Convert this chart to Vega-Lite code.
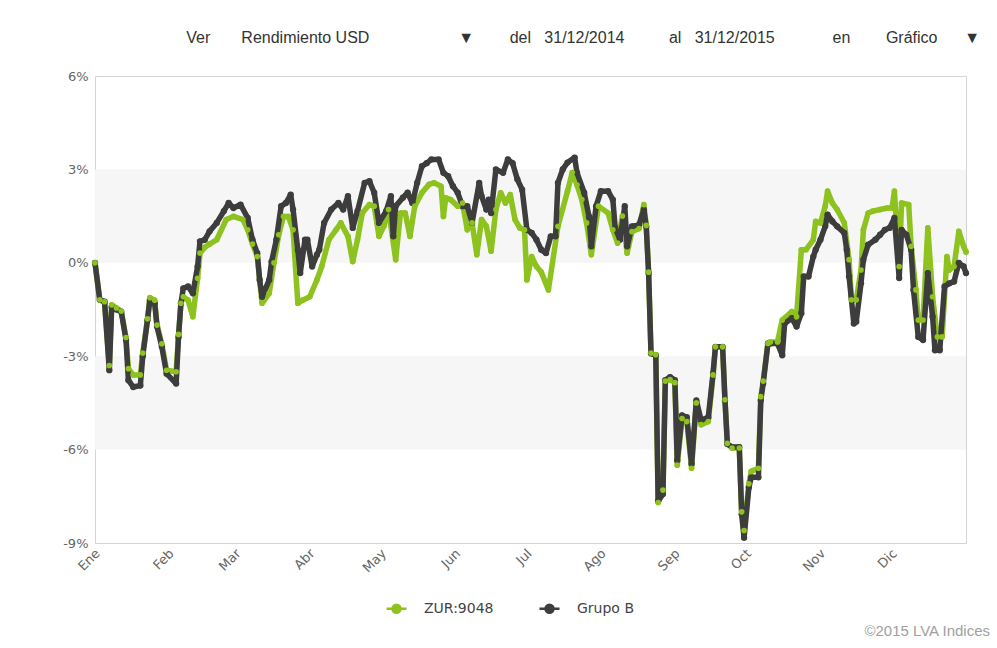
{
  "$schema": "https://vega.github.io/schema/vega-lite/v6.json",
  "width": 871,
  "height": 467,
  "autosize": {"type": "none"},
  "padding": {"left": 95, "top": 76, "right": 31, "bottom": 105},
  "background": "#ffffff",
  "title": {
    "text": "Ver\u00a0\u00a0\u00a0\u00a0\u00a0\u00a0\u00a0Rendimiento USD\u00a0\u00a0\u00a0\u00a0\u00a0\u00a0\u00a0\u00a0\u00a0\u00a0\u00a0\u00a0\u00a0\u00a0\u00a0\u00a0\u00a0\u00a0\u00a0\u00a0▼\u00a0\u00a0\u00a0\u00a0\u00a0\u00a0\u00a0\u00a0del\u00a0\u00a0\u00a031/12/2014\u00a0\u00a0\u00a0\u00a0\u00a0\u00a0\u00a0\u00a0\u00a0\u00a0al\u00a0\u00a0\u00a031/12/2015\u00a0\u00a0\u00a0\u00a0\u00a0\u00a0\u00a0\u00a0\u00a0\u00a0\u00a0\u00a0\u00a0en\u00a0\u00a0\u00a0\u00a0\u00a0\u00a0\u00a0\u00a0Gráfico\u00a0\u00a0\u00a0\u00a0\u00a0\u00a0▼",
    "anchor": "end",
    "frame": "group",
    "orient": "top",
    "offset": 24,
    "dx": 14,
    "font": "Liberation Sans",
    "fontSize": 16,
    "fontWeight": "normal",
    "color": "#333333",
    "limit": 0
  },
  "datasets": {
    "serie": [
      {"fecha": "2014-12-31", "serie": "Grupo B", "valor": 0},
      {"fecha": "2015-01-02", "serie": "Grupo B", "valor": -1.19},
      {"fecha": "2015-01-04", "serie": "Grupo B", "valor": -1.25},
      {"fecha": "2015-01-06", "serie": "Grupo B", "valor": -3.45},
      {"fecha": "2015-01-07", "serie": "Grupo B", "valor": -1.41},
      {"fecha": "2015-01-09", "serie": "Grupo B", "valor": -1.5},
      {"fecha": "2015-01-11", "serie": "Grupo B", "valor": -1.57},
      {"fecha": "2015-01-13", "serie": "Grupo B", "valor": -2.48},
      {"fecha": "2015-01-14", "serie": "Grupo B", "valor": -3.77},
      {"fecha": "2015-01-16", "serie": "Grupo B", "valor": -3.99},
      {"fecha": "2015-01-19", "serie": "Grupo B", "valor": -3.94},
      {"fecha": "2015-01-20", "serie": "Grupo B", "valor": -3.0},
      {"fecha": "2015-01-22", "serie": "Grupo B", "valor": -1.84},
      {"fecha": "2015-01-23", "serie": "Grupo B", "valor": -1.19},
      {"fecha": "2015-01-25", "serie": "Grupo B", "valor": -1.3},
      {"fecha": "2015-01-26", "serie": "Grupo B", "valor": -2.05},
      {"fecha": "2015-01-28", "serie": "Grupo B", "valor": -2.7},
      {"fecha": "2015-01-30", "serie": "Grupo B", "valor": -3.56},
      {"fecha": "2015-02-03", "serie": "Grupo B", "valor": -3.88},
      {"fecha": "2015-02-04", "serie": "Grupo B", "valor": -2.38},
      {"fecha": "2015-02-05", "serie": "Grupo B", "valor": -1.3},
      {"fecha": "2015-02-06", "serie": "Grupo B", "valor": -0.82},
      {"fecha": "2015-02-08", "serie": "Grupo B", "valor": -0.76},
      {"fecha": "2015-02-10", "serie": "Grupo B", "valor": -0.98},
      {"fecha": "2015-02-12", "serie": "Grupo B", "valor": -0.12},
      {"fecha": "2015-02-13", "serie": "Grupo B", "valor": 0.69},
      {"fecha": "2015-02-15", "serie": "Grupo B", "valor": 0.74},
      {"fecha": "2015-02-17", "serie": "Grupo B", "valor": 1.01},
      {"fecha": "2015-02-20", "serie": "Grupo B", "valor": 1.28},
      {"fecha": "2015-02-23", "serie": "Grupo B", "valor": 1.66},
      {"fecha": "2015-02-25", "serie": "Grupo B", "valor": 1.92},
      {"fecha": "2015-02-27", "serie": "Grupo B", "valor": 1.76},
      {"fecha": "2015-03-02", "serie": "Grupo B", "valor": 1.87},
      {"fecha": "2015-03-05", "serie": "Grupo B", "valor": 1.44},
      {"fecha": "2015-03-07", "serie": "Grupo B", "valor": 0.74},
      {"fecha": "2015-03-09", "serie": "Grupo B", "valor": 0.31},
      {"fecha": "2015-03-10", "serie": "Grupo B", "valor": -0.55},
      {"fecha": "2015-03-11", "serie": "Grupo B", "valor": -1.09},
      {"fecha": "2015-03-14", "serie": "Grupo B", "valor": -0.55},
      {"fecha": "2015-03-15", "serie": "Grupo B", "valor": 0.04},
      {"fecha": "2015-03-17", "serie": "Grupo B", "valor": 0.74},
      {"fecha": "2015-03-19", "serie": "Grupo B", "valor": 1.82},
      {"fecha": "2015-03-21", "serie": "Grupo B", "valor": 1.92},
      {"fecha": "2015-03-23", "serie": "Grupo B", "valor": 2.19},
      {"fecha": "2015-03-24", "serie": "Grupo B", "valor": 1.71},
      {"fecha": "2015-03-26", "serie": "Grupo B", "valor": 0.42},
      {"fecha": "2015-03-27", "serie": "Grupo B", "valor": -0.33},
      {"fecha": "2015-03-29", "serie": "Grupo B", "valor": 0.74},
      {"fecha": "2015-03-30", "serie": "Grupo B", "valor": 0.74},
      {"fecha": "2015-04-01", "serie": "Grupo B", "valor": -0.12},
      {"fecha": "2015-04-03", "serie": "Grupo B", "valor": 0.26},
      {"fecha": "2015-04-04", "serie": "Grupo B", "valor": 0.42},
      {"fecha": "2015-04-06", "serie": "Grupo B", "valor": 1.28},
      {"fecha": "2015-04-09", "serie": "Grupo B", "valor": 1.71},
      {"fecha": "2015-04-12", "serie": "Grupo B", "valor": 1.92},
      {"fecha": "2015-04-14", "serie": "Grupo B", "valor": 1.71},
      {"fecha": "2015-04-16", "serie": "Grupo B", "valor": 2.14},
      {"fecha": "2015-04-18", "serie": "Grupo B", "valor": 1.12},
      {"fecha": "2015-04-20", "serie": "Grupo B", "valor": 1.66},
      {"fecha": "2015-04-23", "serie": "Grupo B", "valor": 2.57},
      {"fecha": "2015-04-25", "serie": "Grupo B", "valor": 2.62},
      {"fecha": "2015-04-27", "serie": "Grupo B", "valor": 2.25},
      {"fecha": "2015-04-29", "serie": "Grupo B", "valor": 1.28},
      {"fecha": "2015-05-02", "serie": "Grupo B", "valor": 1.66},
      {"fecha": "2015-05-04", "serie": "Grupo B", "valor": 2.14},
      {"fecha": "2015-05-05", "serie": "Grupo B", "valor": 0.85},
      {"fecha": "2015-05-06", "serie": "Grupo B", "valor": 1.82},
      {"fecha": "2015-05-09", "serie": "Grupo B", "valor": 2.09},
      {"fecha": "2015-05-11", "serie": "Grupo B", "valor": 2.25},
      {"fecha": "2015-05-13", "serie": "Grupo B", "valor": 1.92},
      {"fecha": "2015-05-15", "serie": "Grupo B", "valor": 2.57},
      {"fecha": "2015-05-17", "serie": "Grupo B", "valor": 3.1},
      {"fecha": "2015-05-19", "serie": "Grupo B", "valor": 3.2},
      {"fecha": "2015-05-21", "serie": "Grupo B", "valor": 3.32},
      {"fecha": "2015-05-24", "serie": "Grupo B", "valor": 3.32},
      {"fecha": "2015-05-26", "serie": "Grupo B", "valor": 2.89},
      {"fecha": "2015-05-28", "serie": "Grupo B", "valor": 2.78},
      {"fecha": "2015-05-30", "serie": "Grupo B", "valor": 2.46},
      {"fecha": "2015-06-01", "serie": "Grupo B", "valor": 2.25},
      {"fecha": "2015-06-03", "serie": "Grupo B", "valor": 1.82},
      {"fecha": "2015-06-05", "serie": "Grupo B", "valor": 1.82},
      {"fecha": "2015-06-07", "serie": "Grupo B", "valor": 1.28},
      {"fecha": "2015-06-10", "serie": "Grupo B", "valor": 2.57},
      {"fecha": "2015-06-11", "serie": "Grupo B", "valor": 2.14},
      {"fecha": "2015-06-13", "serie": "Grupo B", "valor": 1.71},
      {"fecha": "2015-06-14", "serie": "Grupo B", "valor": 2.03},
      {"fecha": "2015-06-15", "serie": "Grupo B", "valor": 1.6},
      {"fecha": "2015-06-17", "serie": "Grupo B", "valor": 3.0},
      {"fecha": "2015-06-20", "serie": "Grupo B", "valor": 2.89},
      {"fecha": "2015-06-22", "serie": "Grupo B", "valor": 3.32},
      {"fecha": "2015-06-24", "serie": "Grupo B", "valor": 3.2},
      {"fecha": "2015-06-26", "serie": "Grupo B", "valor": 2.68},
      {"fecha": "2015-06-28", "serie": "Grupo B", "valor": 2.35},
      {"fecha": "2015-06-30", "serie": "Grupo B", "valor": 1.06},
      {"fecha": "2015-07-02", "serie": "Grupo B", "valor": 0.96},
      {"fecha": "2015-07-04", "serie": "Grupo B", "valor": 0.74},
      {"fecha": "2015-07-06", "serie": "Grupo B", "valor": 0.42},
      {"fecha": "2015-07-08", "serie": "Grupo B", "valor": 0.31},
      {"fecha": "2015-07-10", "serie": "Grupo B", "valor": 0.85},
      {"fecha": "2015-07-12", "serie": "Grupo B", "valor": 0.85},
      {"fecha": "2015-07-13", "serie": "Grupo B", "valor": 2.57},
      {"fecha": "2015-07-15", "serie": "Grupo B", "valor": 3.0},
      {"fecha": "2015-07-17", "serie": "Grupo B", "valor": 3.22},
      {"fecha": "2015-07-20", "serie": "Grupo B", "valor": 3.38},
      {"fecha": "2015-07-21", "serie": "Grupo B", "valor": 2.89},
      {"fecha": "2015-07-24", "serie": "Grupo B", "valor": 2.25},
      {"fecha": "2015-07-26", "serie": "Grupo B", "valor": 1.49},
      {"fecha": "2015-07-27", "serie": "Grupo B", "valor": 0.53},
      {"fecha": "2015-07-29", "serie": "Grupo B", "valor": 1.82},
      {"fecha": "2015-07-31", "serie": "Grupo B", "valor": 2.3},
      {"fecha": "2015-08-03", "serie": "Grupo B", "valor": 2.3},
      {"fecha": "2015-08-05", "serie": "Grupo B", "valor": 2.03},
      {"fecha": "2015-08-06", "serie": "Grupo B", "valor": 1.12},
      {"fecha": "2015-08-08", "serie": "Grupo B", "valor": 0.74},
      {"fecha": "2015-08-10", "serie": "Grupo B", "valor": 1.82},
      {"fecha": "2015-08-11", "serie": "Grupo B", "valor": 0.53},
      {"fecha": "2015-08-13", "serie": "Grupo B", "valor": 1.17},
      {"fecha": "2015-08-16", "serie": "Grupo B", "valor": 1.23},
      {"fecha": "2015-08-18", "serie": "Grupo B", "valor": 1.71},
      {"fecha": "2015-08-19", "serie": "Grupo B", "valor": 1.17},
      {"fecha": "2015-08-20", "serie": "Grupo B", "valor": -0.33},
      {"fecha": "2015-08-21", "serie": "Grupo B", "valor": -2.91},
      {"fecha": "2015-08-23", "serie": "Grupo B", "valor": -2.97},
      {"fecha": "2015-08-24", "serie": "Grupo B", "valor": -7.65},
      {"fecha": "2015-08-26", "serie": "Grupo B", "valor": -7.43},
      {"fecha": "2015-08-27", "serie": "Grupo B", "valor": -3.77},
      {"fecha": "2015-08-29", "serie": "Grupo B", "valor": -3.67},
      {"fecha": "2015-08-31", "serie": "Grupo B", "valor": -3.77},
      {"fecha": "2015-09-01", "serie": "Grupo B", "valor": -6.35},
      {"fecha": "2015-09-03", "serie": "Grupo B", "valor": -4.9},
      {"fecha": "2015-09-05", "serie": "Grupo B", "valor": -4.96},
      {"fecha": "2015-09-07", "serie": "Grupo B", "valor": -6.46},
      {"fecha": "2015-09-09", "serie": "Grupo B", "valor": -4.42},
      {"fecha": "2015-09-11", "serie": "Grupo B", "valor": -5.06},
      {"fecha": "2015-09-14", "serie": "Grupo B", "valor": -4.96},
      {"fecha": "2015-09-16", "serie": "Grupo B", "valor": -3.56},
      {"fecha": "2015-09-17", "serie": "Grupo B", "valor": -2.7},
      {"fecha": "2015-09-20", "serie": "Grupo B", "valor": -2.7},
      {"fecha": "2015-09-21", "serie": "Grupo B", "valor": -4.42},
      {"fecha": "2015-09-22", "serie": "Grupo B", "valor": -5.82},
      {"fecha": "2015-09-24", "serie": "Grupo B", "valor": -5.92},
      {"fecha": "2015-09-27", "serie": "Grupo B", "valor": -5.92},
      {"fecha": "2015-09-28", "serie": "Grupo B", "valor": -8.08},
      {"fecha": "2015-09-29", "serie": "Grupo B", "valor": -8.83},
      {"fecha": "2015-10-01", "serie": "Grupo B", "valor": -7.22},
      {"fecha": "2015-10-02", "serie": "Grupo B", "valor": -6.89},
      {"fecha": "2015-10-05", "serie": "Grupo B", "valor": -6.89},
      {"fecha": "2015-10-06", "serie": "Grupo B", "valor": -4.42},
      {"fecha": "2015-10-07", "serie": "Grupo B", "valor": -3.88},
      {"fecha": "2015-10-09", "serie": "Grupo B", "valor": -2.59},
      {"fecha": "2015-10-10", "serie": "Grupo B", "valor": -2.59},
      {"fecha": "2015-10-13", "serie": "Grupo B", "valor": -2.59},
      {"fecha": "2015-10-15", "serie": "Grupo B", "valor": -2.97},
      {"fecha": "2015-10-16", "serie": "Grupo B", "valor": -1.95},
      {"fecha": "2015-10-19", "serie": "Grupo B", "valor": -1.78},
      {"fecha": "2015-10-21", "serie": "Grupo B", "valor": -2.05},
      {"fecha": "2015-10-23", "serie": "Grupo B", "valor": -1.62},
      {"fecha": "2015-10-24", "serie": "Grupo B", "valor": -0.44},
      {"fecha": "2015-10-26", "serie": "Grupo B", "valor": -0.44},
      {"fecha": "2015-10-28", "serie": "Grupo B", "valor": 0.2},
      {"fecha": "2015-10-29", "serie": "Grupo B", "valor": 0.42},
      {"fecha": "2015-10-31", "serie": "Grupo B", "valor": 0.74},
      {"fecha": "2015-11-02", "serie": "Grupo B", "valor": 1.17},
      {"fecha": "2015-11-03", "serie": "Grupo B", "valor": 1.55},
      {"fecha": "2015-11-05", "serie": "Grupo B", "valor": 1.33},
      {"fecha": "2015-11-07", "serie": "Grupo B", "valor": 1.17},
      {"fecha": "2015-11-10", "serie": "Grupo B", "valor": 0.96},
      {"fecha": "2015-11-11", "serie": "Grupo B", "valor": 0.42},
      {"fecha": "2015-11-12", "serie": "Grupo B", "valor": -0.44},
      {"fecha": "2015-11-14", "serie": "Grupo B", "valor": -1.95},
      {"fecha": "2015-11-15", "serie": "Grupo B", "valor": -1.89},
      {"fecha": "2015-11-17", "serie": "Grupo B", "valor": -0.66},
      {"fecha": "2015-11-18", "serie": "Grupo B", "valor": 0.1},
      {"fecha": "2015-11-20", "serie": "Grupo B", "valor": 0.58},
      {"fecha": "2015-11-23", "serie": "Grupo B", "valor": 0.74},
      {"fecha": "2015-11-25", "serie": "Grupo B", "valor": 0.9},
      {"fecha": "2015-11-27", "serie": "Grupo B", "valor": 1.06},
      {"fecha": "2015-11-29", "serie": "Grupo B", "valor": 1.12},
      {"fecha": "2015-12-01", "serie": "Grupo B", "valor": 1.44},
      {"fecha": "2015-12-03", "serie": "Grupo B", "valor": -0.49},
      {"fecha": "2015-12-04", "serie": "Grupo B", "valor": 1.06},
      {"fecha": "2015-12-06", "serie": "Grupo B", "valor": 0.9},
      {"fecha": "2015-12-08", "serie": "Grupo B", "valor": 0.42},
      {"fecha": "2015-12-09", "serie": "Grupo B", "valor": -0.87},
      {"fecha": "2015-12-11", "serie": "Grupo B", "valor": -2.38},
      {"fecha": "2015-12-13", "serie": "Grupo B", "valor": -2.48},
      {"fecha": "2015-12-15", "serie": "Grupo B", "valor": -0.33},
      {"fecha": "2015-12-17", "serie": "Grupo B", "valor": -1.73},
      {"fecha": "2015-12-18", "serie": "Grupo B", "valor": -2.81},
      {"fecha": "2015-12-20", "serie": "Grupo B", "valor": -2.81},
      {"fecha": "2015-12-22", "serie": "Grupo B", "valor": -0.76},
      {"fecha": "2015-12-24", "serie": "Grupo B", "valor": -0.66},
      {"fecha": "2015-12-26", "serie": "Grupo B", "valor": -0.6},
      {"fecha": "2015-12-28", "serie": "Grupo B", "valor": 0},
      {"fecha": "2015-12-30", "serie": "Grupo B", "valor": -0.12},
      {"fecha": "2015-12-31", "serie": "Grupo B", "valor": -0.33},

      {"fecha": "2014-12-31", "serie": "ZUR:9048", "valor": 0},
      {"fecha": "2015-01-02", "serie": "ZUR:9048", "valor": -1.19},
      {"fecha": "2015-01-04", "serie": "ZUR:9048", "valor": -1.25},
      {"fecha": "2015-01-06", "serie": "ZUR:9048", "valor": -3.3},
      {"fecha": "2015-01-07", "serie": "ZUR:9048", "valor": -1.35},
      {"fecha": "2015-01-09", "serie": "ZUR:9048", "valor": -1.45},
      {"fecha": "2015-01-11", "serie": "ZUR:9048", "valor": -1.55},
      {"fecha": "2015-01-13", "serie": "ZUR:9048", "valor": -2.4},
      {"fecha": "2015-01-14", "serie": "ZUR:9048", "valor": -3.4},
      {"fecha": "2015-01-16", "serie": "ZUR:9048", "valor": -3.6},
      {"fecha": "2015-01-19", "serie": "ZUR:9048", "valor": -3.6},
      {"fecha": "2015-01-20", "serie": "ZUR:9048", "valor": -2.9},
      {"fecha": "2015-01-22", "serie": "ZUR:9048", "valor": -1.8},
      {"fecha": "2015-01-23", "serie": "ZUR:9048", "valor": -1.12},
      {"fecha": "2015-01-25", "serie": "ZUR:9048", "valor": -1.2},
      {"fecha": "2015-01-26", "serie": "ZUR:9048", "valor": -2.0},
      {"fecha": "2015-01-28", "serie": "ZUR:9048", "valor": -2.6},
      {"fecha": "2015-01-30", "serie": "ZUR:9048", "valor": -3.45},
      {"fecha": "2015-02-03", "serie": "ZUR:9048", "valor": -3.5},
      {"fecha": "2015-02-04", "serie": "ZUR:9048", "valor": -2.3},
      {"fecha": "2015-02-05", "serie": "ZUR:9048", "valor": -1.3},
      {"fecha": "2015-02-06", "serie": "ZUR:9048", "valor": -1.09},
      {"fecha": "2015-02-08", "serie": "ZUR:9048", "valor": -1.2},
      {"fecha": "2015-02-10", "serie": "ZUR:9048", "valor": -1.73},
      {"fecha": "2015-02-12", "serie": "ZUR:9048", "valor": -0.5},
      {"fecha": "2015-02-13", "serie": "ZUR:9048", "valor": 0.31},
      {"fecha": "2015-02-15", "serie": "ZUR:9048", "valor": 0.5},
      {"fecha": "2015-02-17", "serie": "ZUR:9048", "valor": 0.6},
      {"fecha": "2015-02-20", "serie": "ZUR:9048", "valor": 0.74},
      {"fecha": "2015-02-24", "serie": "ZUR:9048", "valor": 1.39},
      {"fecha": "2015-02-27", "serie": "ZUR:9048", "valor": 1.49},
      {"fecha": "2015-03-03", "serie": "ZUR:9048", "valor": 1.39},
      {"fecha": "2015-03-05", "serie": "ZUR:9048", "valor": 1.06},
      {"fecha": "2015-03-07", "serie": "ZUR:9048", "valor": 0.6},
      {"fecha": "2015-03-09", "serie": "ZUR:9048", "valor": 0.2},
      {"fecha": "2015-03-11", "serie": "ZUR:9048", "valor": -1.3},
      {"fecha": "2015-03-14", "serie": "ZUR:9048", "valor": -0.98},
      {"fecha": "2015-03-16", "serie": "ZUR:9048", "valor": 0},
      {"fecha": "2015-03-18", "serie": "ZUR:9048", "valor": 0.9},
      {"fecha": "2015-03-20", "serie": "ZUR:9048", "valor": 1.49},
      {"fecha": "2015-03-22", "serie": "ZUR:9048", "valor": 1.49},
      {"fecha": "2015-03-24", "serie": "ZUR:9048", "valor": 1.06},
      {"fecha": "2015-03-26", "serie": "ZUR:9048", "valor": -1.3},
      {"fecha": "2015-03-28", "serie": "ZUR:9048", "valor": -1.2},
      {"fecha": "2015-03-31", "serie": "ZUR:9048", "valor": -1.09},
      {"fecha": "2015-04-03", "serie": "ZUR:9048", "valor": -0.55},
      {"fecha": "2015-04-05", "serie": "ZUR:9048", "valor": -0.12},
      {"fecha": "2015-04-08", "serie": "ZUR:9048", "valor": 0.74},
      {"fecha": "2015-04-11", "serie": "ZUR:9048", "valor": 1.06},
      {"fecha": "2015-04-13", "serie": "ZUR:9048", "valor": 1.28},
      {"fecha": "2015-04-16", "serie": "ZUR:9048", "valor": 0.85},
      {"fecha": "2015-04-18", "serie": "ZUR:9048", "valor": 0.04},
      {"fecha": "2015-04-20", "serie": "ZUR:9048", "valor": 0.74},
      {"fecha": "2015-04-22", "serie": "ZUR:9048", "valor": 1.6},
      {"fecha": "2015-04-25", "serie": "ZUR:9048", "valor": 1.87},
      {"fecha": "2015-04-27", "serie": "ZUR:9048", "valor": 1.82},
      {"fecha": "2015-04-29", "serie": "ZUR:9048", "valor": 0.85},
      {"fecha": "2015-05-01", "serie": "ZUR:9048", "valor": 1.17},
      {"fecha": "2015-05-03", "serie": "ZUR:9048", "valor": 1.71},
      {"fecha": "2015-05-06", "serie": "ZUR:9048", "valor": 0.1},
      {"fecha": "2015-05-08", "serie": "ZUR:9048", "valor": 1.6},
      {"fecha": "2015-05-10", "serie": "ZUR:9048", "valor": 1.6},
      {"fecha": "2015-05-12", "serie": "ZUR:9048", "valor": 0.85},
      {"fecha": "2015-05-14", "serie": "ZUR:9048", "valor": 1.82},
      {"fecha": "2015-05-17", "serie": "ZUR:9048", "valor": 2.25},
      {"fecha": "2015-05-20", "serie": "ZUR:9048", "valor": 2.52},
      {"fecha": "2015-05-22", "serie": "ZUR:9048", "valor": 2.57},
      {"fecha": "2015-05-25", "serie": "ZUR:9048", "valor": 2.46},
      {"fecha": "2015-05-26", "serie": "ZUR:9048", "valor": 1.49},
      {"fecha": "2015-05-27", "serie": "ZUR:9048", "valor": 2.09},
      {"fecha": "2015-05-29", "serie": "ZUR:9048", "valor": 2.03},
      {"fecha": "2015-06-01", "serie": "ZUR:9048", "valor": 1.82},
      {"fecha": "2015-06-03", "serie": "ZUR:9048", "valor": 1.92},
      {"fecha": "2015-06-05", "serie": "ZUR:9048", "valor": 1.06},
      {"fecha": "2015-06-07", "serie": "ZUR:9048", "valor": 1.28},
      {"fecha": "2015-06-09", "serie": "ZUR:9048", "valor": 0.26},
      {"fecha": "2015-06-11", "serie": "ZUR:9048", "valor": 1.39},
      {"fecha": "2015-06-13", "serie": "ZUR:9048", "valor": 1.17},
      {"fecha": "2015-06-15", "serie": "ZUR:9048", "valor": 0.37},
      {"fecha": "2015-06-17", "serie": "ZUR:9048", "valor": 1.71},
      {"fecha": "2015-06-19", "serie": "ZUR:9048", "valor": 2.25},
      {"fecha": "2015-06-21", "serie": "ZUR:9048", "valor": 1.92},
      {"fecha": "2015-06-23", "serie": "ZUR:9048", "valor": 2.19},
      {"fecha": "2015-06-25", "serie": "ZUR:9048", "valor": 1.39},
      {"fecha": "2015-06-27", "serie": "ZUR:9048", "valor": 1.12},
      {"fecha": "2015-06-29", "serie": "ZUR:9048", "valor": 1.06},
      {"fecha": "2015-06-30", "serie": "ZUR:9048", "valor": -0.55},
      {"fecha": "2015-07-02", "serie": "ZUR:9048", "valor": 0.2},
      {"fecha": "2015-07-04", "serie": "ZUR:9048", "valor": -0.12},
      {"fecha": "2015-07-06", "serie": "ZUR:9048", "valor": -0.3},
      {"fecha": "2015-07-09", "serie": "ZUR:9048", "valor": -0.87},
      {"fecha": "2015-07-13", "serie": "ZUR:9048", "valor": 1.17},
      {"fecha": "2015-07-17", "serie": "ZUR:9048", "valor": 2.3},
      {"fecha": "2015-07-19", "serie": "ZUR:9048", "valor": 2.9},
      {"fecha": "2015-07-21", "serie": "ZUR:9048", "valor": 2.5},
      {"fecha": "2015-07-23", "serie": "ZUR:9048", "valor": 2.03},
      {"fecha": "2015-07-25", "serie": "ZUR:9048", "valor": 1.28},
      {"fecha": "2015-07-27", "serie": "ZUR:9048", "valor": 0.26},
      {"fecha": "2015-07-30", "serie": "ZUR:9048", "valor": 1.82},
      {"fecha": "2015-08-03", "serie": "ZUR:9048", "valor": 1.6},
      {"fecha": "2015-08-05", "serie": "ZUR:9048", "valor": 1.06},
      {"fecha": "2015-08-07", "serie": "ZUR:9048", "valor": 0.63},
      {"fecha": "2015-08-09", "serie": "ZUR:9048", "valor": 1.5},
      {"fecha": "2015-08-11", "serie": "ZUR:9048", "valor": 0.31},
      {"fecha": "2015-08-13", "serie": "ZUR:9048", "valor": 1.0},
      {"fecha": "2015-08-16", "serie": "ZUR:9048", "valor": 1.1},
      {"fecha": "2015-08-18", "serie": "ZUR:9048", "valor": 1.87},
      {"fecha": "2015-08-19", "serie": "ZUR:9048", "valor": 1.2},
      {"fecha": "2015-08-20", "serie": "ZUR:9048", "valor": -0.3},
      {"fecha": "2015-08-21", "serie": "ZUR:9048", "valor": -2.9},
      {"fecha": "2015-08-23", "serie": "ZUR:9048", "valor": -2.95},
      {"fecha": "2015-08-24", "serie": "ZUR:9048", "valor": -7.7},
      {"fecha": "2015-08-26", "serie": "ZUR:9048", "valor": -7.3},
      {"fecha": "2015-08-27", "serie": "ZUR:9048", "valor": -3.8},
      {"fecha": "2015-08-29", "serie": "ZUR:9048", "valor": -3.75},
      {"fecha": "2015-08-31", "serie": "ZUR:9048", "valor": -3.85},
      {"fecha": "2015-09-01", "serie": "ZUR:9048", "valor": -6.5},
      {"fecha": "2015-09-03", "serie": "ZUR:9048", "valor": -5.0},
      {"fecha": "2015-09-05", "serie": "ZUR:9048", "valor": -5.1},
      {"fecha": "2015-09-07", "serie": "ZUR:9048", "valor": -6.6},
      {"fecha": "2015-09-09", "serie": "ZUR:9048", "valor": -4.5},
      {"fecha": "2015-09-11", "serie": "ZUR:9048", "valor": -5.2},
      {"fecha": "2015-09-14", "serie": "ZUR:9048", "valor": -5.1},
      {"fecha": "2015-09-16", "serie": "ZUR:9048", "valor": -3.6},
      {"fecha": "2015-09-17", "serie": "ZUR:9048", "valor": -2.7},
      {"fecha": "2015-09-20", "serie": "ZUR:9048", "valor": -2.7},
      {"fecha": "2015-09-21", "serie": "ZUR:9048", "valor": -4.4},
      {"fecha": "2015-09-22", "serie": "ZUR:9048", "valor": -5.8},
      {"fecha": "2015-09-24", "serie": "ZUR:9048", "valor": -5.95},
      {"fecha": "2015-09-27", "serie": "ZUR:9048", "valor": -5.95},
      {"fecha": "2015-09-28", "serie": "ZUR:9048", "valor": -8.0},
      {"fecha": "2015-09-29", "serie": "ZUR:9048", "valor": -8.6},
      {"fecha": "2015-10-01", "serie": "ZUR:9048", "valor": -7.1},
      {"fecha": "2015-10-02", "serie": "ZUR:9048", "valor": -6.7},
      {"fecha": "2015-10-05", "serie": "ZUR:9048", "valor": -6.6},
      {"fecha": "2015-10-06", "serie": "ZUR:9048", "valor": -4.3},
      {"fecha": "2015-10-07", "serie": "ZUR:9048", "valor": -3.8},
      {"fecha": "2015-10-09", "serie": "ZUR:9048", "valor": -2.59},
      {"fecha": "2015-10-10", "serie": "ZUR:9048", "valor": -2.54},
      {"fecha": "2015-10-13", "serie": "ZUR:9048", "valor": -2.54},
      {"fecha": "2015-10-15", "serie": "ZUR:9048", "valor": -1.84},
      {"fecha": "2015-10-19", "serie": "ZUR:9048", "valor": -1.57},
      {"fecha": "2015-10-21", "serie": "ZUR:9048", "valor": -1.73},
      {"fecha": "2015-10-23", "serie": "ZUR:9048", "valor": 0.42},
      {"fecha": "2015-10-25", "serie": "ZUR:9048", "valor": 0.42},
      {"fecha": "2015-10-28", "serie": "ZUR:9048", "valor": 0.74},
      {"fecha": "2015-10-29", "serie": "ZUR:9048", "valor": 1.33},
      {"fecha": "2015-10-31", "serie": "ZUR:9048", "valor": 1.28},
      {"fecha": "2015-11-02", "serie": "ZUR:9048", "valor": 1.82},
      {"fecha": "2015-11-03", "serie": "ZUR:9048", "valor": 2.3},
      {"fecha": "2015-11-05", "serie": "ZUR:9048", "valor": 1.92},
      {"fecha": "2015-11-07", "serie": "ZUR:9048", "valor": 1.71},
      {"fecha": "2015-11-10", "serie": "ZUR:9048", "valor": 1.28},
      {"fecha": "2015-11-12", "serie": "ZUR:9048", "valor": 0.1},
      {"fecha": "2015-11-13", "serie": "ZUR:9048", "valor": -1.19},
      {"fecha": "2015-11-15", "serie": "ZUR:9048", "valor": -1.19},
      {"fecha": "2015-11-17", "serie": "ZUR:9048", "valor": -0.23},
      {"fecha": "2015-11-18", "serie": "ZUR:9048", "valor": 1.06},
      {"fecha": "2015-11-20", "serie": "ZUR:9048", "valor": 1.6},
      {"fecha": "2015-11-22", "serie": "ZUR:9048", "valor": 1.66},
      {"fecha": "2015-11-25", "serie": "ZUR:9048", "valor": 1.71},
      {"fecha": "2015-11-28", "serie": "ZUR:9048", "valor": 1.76},
      {"fecha": "2015-11-30", "serie": "ZUR:9048", "valor": 1.76},
      {"fecha": "2015-12-01", "serie": "ZUR:9048", "valor": 2.3},
      {"fecha": "2015-12-03", "serie": "ZUR:9048", "valor": -0.12},
      {"fecha": "2015-12-04", "serie": "ZUR:9048", "valor": 1.92},
      {"fecha": "2015-12-07", "serie": "ZUR:9048", "valor": 1.87},
      {"fecha": "2015-12-08", "serie": "ZUR:9048", "valor": 0.53},
      {"fecha": "2015-12-10", "serie": "ZUR:9048", "valor": -0.87},
      {"fecha": "2015-12-11", "serie": "ZUR:9048", "valor": -1.84},
      {"fecha": "2015-12-13", "serie": "ZUR:9048", "valor": -1.84},
      {"fecha": "2015-12-15", "serie": "ZUR:9048", "valor": 1.12},
      {"fecha": "2015-12-17", "serie": "ZUR:9048", "valor": -1.09},
      {"fecha": "2015-12-19", "serie": "ZUR:9048", "valor": -2.38},
      {"fecha": "2015-12-21", "serie": "ZUR:9048", "valor": -2.38},
      {"fecha": "2015-12-23", "serie": "ZUR:9048", "valor": 0.2},
      {"fecha": "2015-12-24", "serie": "ZUR:9048", "valor": -0.23},
      {"fecha": "2015-12-26", "serie": "ZUR:9048", "valor": -0.12},
      {"fecha": "2015-12-28", "serie": "ZUR:9048", "valor": 1.01},
      {"fecha": "2015-12-30", "serie": "ZUR:9048", "valor": 0.53},
      {"fecha": "2015-12-31", "serie": "ZUR:9048", "valor": 0.35}
    ]
  },
  "layer": [
    {
      "data": {"values": [{"desde": 0, "hasta": 3}, {"desde": -6, "hasta": -3}]},
      "mark": {"type": "rect", "color": "#f6f6f6"},
      "encoding": {
        "y": {"field": "desde", "type": "quantitative", "title": null},
        "y2": {"field": "hasta"}
      }
    },
    {
      "data": {"name": "serie"},
      "transform": [{"filter": "datum.serie === 'ZUR:9048'"}],
      "mark": {"type": "line", "strokeWidth": 5.5, "strokeJoin": "round", "strokeCap": "round"},
      "encoding": {
        "x": {
          "field": "fecha",
          "type": "temporal",
          "scale": {
            "type": "utc",
            "domain": [
              {"year": 2014, "month": 12, "date": 31, "utc": true},
              {"year": 2015, "month": 12, "date": 31, "utc": true}
            ]
          },
          "axis": {
            "title": null,
            "values": [
              {"year": 2015, "month": 1, "date": 1, "utc": true},
              {"year": 2015, "month": 2, "date": 1, "utc": true},
              {"year": 2015, "month": 3, "date": 1, "utc": true},
              {"year": 2015, "month": 4, "date": 1, "utc": true},
              {"year": 2015, "month": 5, "date": 1, "utc": true},
              {"year": 2015, "month": 6, "date": 1, "utc": true},
              {"year": 2015, "month": 7, "date": 1, "utc": true},
              {"year": 2015, "month": 8, "date": 1, "utc": true},
              {"year": 2015, "month": 9, "date": 1, "utc": true},
              {"year": 2015, "month": 10, "date": 1, "utc": true},
              {"year": 2015, "month": 11, "date": 1, "utc": true},
              {"year": 2015, "month": 12, "date": 1, "utc": true}
            ],
            "labelExpr": "['Ene','Feb','Mar','Abr','May','Jun','Jul','Ago','Sep','Oct','Nov','Dic'][utcmonth(datum.value)]",
            "labelAngle": -45,
            "labelAlign": "right",
            "labelBaseline": "middle",
            "labelPadding": 8
          }
        },
        "y": {
          "field": "valor",
          "type": "quantitative",
          "scale": {"domain": [-9, 6], "nice": false, "zero": false},
          "axis": {
            "title": null,
            "values": [-9, -6, -3, 0, 3, 6],
            "labelExpr": "datum.value + '%'",
            "labelPadding": 7
          }
        },
        "color": {
          "field": "serie",
          "type": "nominal",
          "scale": {"domain": ["ZUR:9048", "Grupo B"], "range": ["#8dc21f", "#3d3d3d"]},
          "legend": {
            "title": null,
            "orient": "none",
            "legendX": 290,
            "legendY": 521,
            "direction": "horizontal",
            "symbolType": "M-1,0L1,0M-0.4,0A0.4,0.4,0,1,1,0.4,0A0.4,0.4,0,1,1,-0.4,0Z",
            "symbolSize": 400,
            "symbolStrokeWidth": 2.5,
            "labelFont": "DejaVu Sans",
            "labelFontSize": 14,
            "labelColor": "#444444",
            "labelOffset": 16,
            "columnPadding": 40,
            "encode": {
              "symbols": {
                "update": {
                  "fill": {"scale": "color", "field": "value"},
                  "stroke": {"scale": "color", "field": "value"}
                }
              }
            }
          }
        }
      }
    },
    {
      "data": {"name": "serie"},
      "transform": [{"filter": "datum.serie === 'Grupo B'"}],
      "mark": {"type": "line", "strokeWidth": 5.5, "strokeJoin": "round", "strokeCap": "round"},
      "encoding": {
        "x": {"field": "fecha", "type": "temporal"},
        "y": {"field": "valor", "type": "quantitative"},
        "color": {"field": "serie", "type": "nominal"}
      }
    },
    {
      "data": {"name": "serie"},
      "transform": [{"filter": "datum.serie === 'Grupo B'"}],
      "mark": {"type": "point", "filled": true, "shape": "circle", "size": 40, "opacity": 1},
      "encoding": {
        "x": {"field": "fecha", "type": "temporal"},
        "y": {"field": "valor", "type": "quantitative"},
        "color": {"field": "serie", "type": "nominal"}
      }
    },
    {
      "data": {"name": "serie"},
      "transform": [{"filter": "datum.serie === 'ZUR:9048'"}],
      "mark": {"type": "point", "filled": true, "shape": "circle", "size": 32, "opacity": 1},
      "encoding": {
        "x": {"field": "fecha", "type": "temporal"},
        "y": {"field": "valor", "type": "quantitative"},
        "color": {"field": "serie", "type": "nominal"}
      }
    },
    {
      "data": {"values": [{"texto": "©2015 LVA Indices"}]},
      "mark": {"type": "text", "align": "right", "baseline": "middle", "dx": 24, "dy": 88, "font": "Liberation Sans", "fontSize": 15, "color": "#a0a0a0", "clip": false},
      "encoding": {
        "x": {"datum": {"year": 2015, "month": 12, "date": 31, "utc": true}, "type": "temporal"},
        "y": {"datum": -9, "type": "quantitative"},
        "text": {"field": "texto"}
      }
    }
  ],
  "config": {
    "view": {"stroke": "#d4d4d4", "strokeWidth": 1},
    "axis": {
      "labelFont": "DejaVu Sans",
      "labelFontSize": 13,
      "labelColor": "#666666",
      "grid": false,
      "domain": false,
      "ticks": false
    }
  }
}
